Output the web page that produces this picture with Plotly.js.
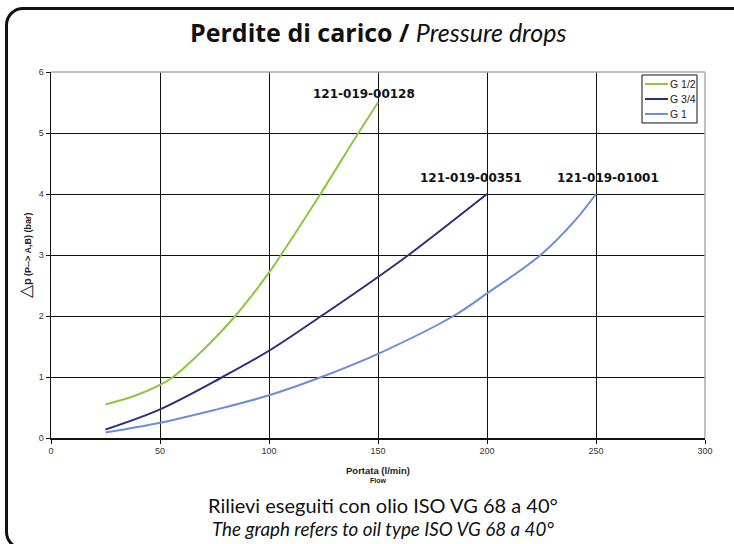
<!DOCTYPE html>
<html>
<head>
<meta charset="utf-8">
<script src="https://cdn.plot.ly/plotly-3.0.1.min.js"></script>
<style>
  html, body { margin:0; padding:0; background:#fff; overflow:hidden; }
  #wrap { position:relative; width:734px; height:544px; overflow:hidden; }
  #frame { position:absolute; left:5px; top:7px; width:790px; height:543px;
           border:3px solid #111; border-radius:18px; box-sizing:border-box; pointer-events:none; }
  #chart { position:absolute; left:0; top:0; width:734px; height:544px; }
</style>
</head>
<body>
<div id="wrap">
  <div id="chart"></div>
  <div id="frame"></div>
</div>
<script>
// ---- data ----
const seriesNames = ['G 1/2', 'G 3/4', 'G 1'];
const productCodes = ['121-019-00128', '121-019-00351', '121-019-01001'];

const flowHalf = [25, 37.5, 50, 56, 70, 84.5, 100, 105.5, 123.6, 141, 150];
const dropHalf = [0.55, 0.68, 0.87, 1.0, 1.45, 2.0, 2.71, 3.0, 4.0, 5.0, 5.5];

const flowThreeQ = [25, 50, 78.7, 100, 124, 150, 164, 200];
const dropThreeQ = [0.14, 0.47, 1.0, 1.43, 2.0, 2.64, 3.0, 4.0];

const flowOne = [25, 50, 75, 100, 124, 150, 184.6, 200, 224.6, 240, 250];
const dropOne = [0.09, 0.25, 0.46, 0.70, 1.0, 1.38, 2.0, 2.37, 3.0, 3.55, 4.0];

const xTicks = [0, 50, 100, 150, 200, 250, 300];
const yTicks = [0, 1, 2, 3, 4, 5, 6];

// ---- styles ----
const colors = ['#8dc63f', '#302c7e', '#6a8fd6'];
const codeShift = [[-14, 0], [-16, 7], [12, 7]];
const tickFont = {family: 'Liberation Sans, Arial, sans-serif', size: 9, color: '#333'};
const geo = 'Lato, "Noto Sans", sans-serif';
const codeFont = '"DejaVu Sans", "Open Sans", sans-serif';

const xs = [flowHalf, flowThreeQ, flowOne];
const ys = [dropHalf, dropThreeQ, dropOne];

const traces = xs.map((x, i) => ({
  type: 'scatter', mode: 'lines', x: x, y: ys[i], name: seriesNames[i],
  line: {color: colors[i], width: 2, shape: 'spline', smoothing: 1},
  showlegend: false, hoverinfo: 'skip'
}));

const annotations = [];
// product code labels at curve ends
xs.forEach((x, i) => {
  annotations.push({
    x: x[x.length - 1], y: ys[i][ys[i].length - 1], xref: 'x', yref: 'y',
    text: '<b>' + productCodes[i] + '</b>', showarrow: false,
    xshift: codeShift[i][0], yanchor: 'bottom', yshift: codeShift[i][1],
    font: {family: codeFont, size: 12, color: '#111'}
  });
});
// title
annotations.push({
  xref: 'paper', yref: 'paper', x: 0.5, y: 1.109, yanchor: 'middle', showarrow: false,
  text: '<span style="font-family:\'Open Sans\', Lato, sans-serif"><b>Perdite di carico</b> <b>/</b></span> <i>Pressure drops</i>',
  font: {family: geo, size: 25, color: '#111'}
});
// x axis title
annotations.push({
  xref: 'paper', yref: 'paper', x: 0.5, y: -0.069, yanchor: 'top', showarrow: false,
  text: '<b>Portata (l/min)</b>', font: {family: 'Liberation Sans, Arial', size: 9.5, color: '#222'}
});
annotations.push({
  xref: 'paper', yref: 'paper', x: 0.5, y: -0.101, yanchor: 'top', showarrow: false,
  text: '<b>Flow</b>', font: {family: 'Liberation Sans, Arial', size: 7, color: '#222'}
});
// y axis title
annotations.push({
  xref: 'paper', yref: 'paper', x: -0.022, y: 0.5, xanchor: 'right', yanchor: 'middle',
  textangle: -90, showarrow: false,
  text: '<span style="font-size:17px">△</span><b><span style="font-size:11px">p</span> (P--> A,B) (bar)</b>',
  font: {family: 'Liberation Sans, Arial', size: 9, color: '#222'}
});
// footnotes
annotations.push({
  xref: 'paper', yref: 'paper', x: 0.508, y: -0.182, yanchor: 'middle', showarrow: false,
  text: 'Rilievi eseguiti con olio ISO VG 68 a 40°', font: {family: geo, size: 20, color: '#111'}
});
annotations.push({
  xref: 'paper', yref: 'paper', x: 0.508, y: -0.247, yanchor: 'middle', showarrow: false,
  text: '<i>The graph refers to oil type ISO VG 68 a 40°</i>', font: {family: geo, size: 18.8, color: '#111'}
});

// custom legend
const px2x = p => (p - 51) / 654;
const px2y = p => (438.3 - p) / 366.3;
const shapes = [
  {type: 'line', xref: 'paper', yref: 'paper', x0: 0, x1: 1, y0: 1, y1: 1, line: {color: '#aaa', width: 1.5}, layer: 'above'},
  {type: 'line', xref: 'paper', yref: 'paper', x0: 1, x1: 1, y0: 0, y1: 1, line: {color: '#aaa', width: 1.5}, layer: 'above'},
  {type: 'rect', xref: 'paper', yref: 'paper', x0: px2x(642), x1: px2x(697), y0: px2y(123), y1: px2y(75),
   line: {color: '#111', width: 1}, fillcolor: '#fff', layer: 'above'}
];
seriesNames.forEach((n, i) => {
  const yy = px2y(84 + i * 15);
  shapes.push({type: 'line', xref: 'paper', yref: 'paper', x0: px2x(645), x1: px2x(668), y0: yy, y1: yy,
               line: {color: colors[i], width: 2}, layer: 'above'});
  annotations.push({xref: 'paper', yref: 'paper', x: px2x(668), y: yy, xanchor: 'left', yanchor: 'middle',
                    showarrow: false, text: n, font: {family: 'Liberation Sans, Arial', size: 10.5, color: '#222'}});
});

const layout = {
  width: 734, height: 544,
  margin: {l: 51, r: 29, t: 72, b: 105.7},
  paper_bgcolor: 'rgba(0,0,0,0)', plot_bgcolor: '#fff',
  showlegend: false,
  xaxis: {range: [0, 300], tickvals: xTicks, ticktext: xTicks.map(String),
          showgrid: true, gridcolor: '#111', gridwidth: 1, zeroline: false,
          showline: true, linecolor: '#111', linewidth: 1.5,
          ticks: 'outside', ticklen: 4, tickcolor: '#111', tickfont: tickFont, fixedrange: true},
  yaxis: {range: [0, 6], tickvals: yTicks, ticktext: yTicks.map(String),
          showgrid: true, gridcolor: '#111', gridwidth: 1, zeroline: false,
          showline: true, linecolor: '#111', linewidth: 1.5,
          ticks: 'outside', ticklen: 4, tickcolor: '#111', tickfont: tickFont, fixedrange: true},
  annotations: annotations,
  shapes: shapes
};

Plotly.newPlot('chart', traces, layout, {displayModeBar: false, staticPlot: true});
</script>
</body>
</html>
